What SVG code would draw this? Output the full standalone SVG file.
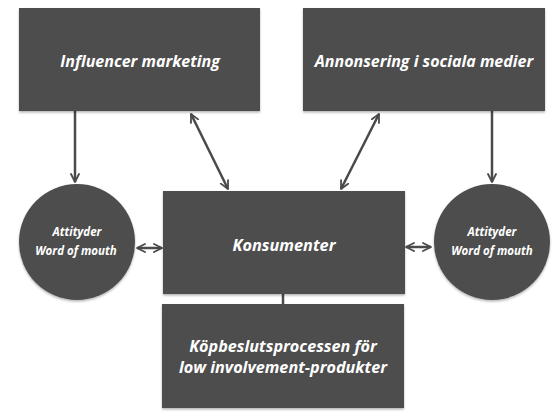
<svg xmlns="http://www.w3.org/2000/svg" width="560" height="416" viewBox="0 0 560 416">
<defs>
<filter id="sh" x="-5%" y="-5%" width="110%" height="115%"><feDropShadow dx="0" dy="1.5" stdDeviation="1" flood-color="#000" flood-opacity="0.3"/></filter>
<marker id="ah" viewBox="0 0 10 10" refX="9" refY="5" markerWidth="10" markerHeight="10" markerUnits="userSpaceOnUse" orient="auto-start-reverse">
<path d="M1,1 L9,5 L1,9" fill="none" stroke="#4a4a4a" stroke-width="1.8" stroke-linecap="round" stroke-linejoin="round"/>
</marker>
</defs>
<style>
.n{fill:#4d4d4d;filter:url(#sh)}
.t{fill:#fff;font-family:"Open Sans","Liberation Sans",sans-serif;font-weight:bold;font-style:italic;text-anchor:middle}
.c{stroke:#4a4a4a;stroke-width:2.5;fill:none}
</style>
<rect width="560" height="416" fill="#fff"/>
<g id="connectors">
<line class="c" x1="75" y1="111" x2="75" y2="182" marker-end="url(#ah)"/>
<line class="c" x1="492" y1="111" x2="492" y2="182" marker-end="url(#ah)"/>
<line class="c" x1="191" y1="114" x2="228" y2="189" marker-start="url(#ah)" marker-end="url(#ah)"/>
<line class="c" x1="379" y1="114" x2="341" y2="189" marker-start="url(#ah)" marker-end="url(#ah)"/>
<line class="c" x1="137" y1="248" x2="162" y2="248" stroke-width="2" marker-start="url(#ah)" marker-end="url(#ah)"/>
<line class="c" x1="406" y1="247" x2="431" y2="247" stroke-width="2" marker-start="url(#ah)" marker-end="url(#ah)"/>
<line class="c" x1="283" y1="294" x2="283" y2="304" stroke-width="3"/>
</g>
<g id="influencer">
<rect class="n" x="19" y="8" width="241" height="103"/>
<text class="t" x="140" y="67" font-size="16">Influencer marketing</text>
</g>
<g id="annonsering">
<rect class="n" x="303" y="8" width="242" height="103"/>
<text class="t" x="424" y="67" font-size="16">Annonsering i sociala medier</text>
</g>
<g id="konsumenter">
<rect class="n" x="163" y="191" width="242" height="103"/>
<text class="t" x="284" y="251" font-size="16.3">Konsumenter</text>
</g>
<g id="kopbeslut">
<rect class="n" x="162" y="304" width="242" height="104"/>
<text class="t" x="283" y="352" font-size="16.2">Köpbeslutsprocessen för</text>
<text class="t" x="283" y="373" font-size="16.2">low involvement-produkter</text>
</g>
<g id="attityder-left">
<circle class="n" cx="77" cy="242" r="58"/>
<text class="t" x="77" y="236" font-size="11.5">Attityder</text>
<text class="t" x="76" y="255" font-size="11.5">Word of mouth</text>
</g>
<g id="attityder-right">
<circle class="n" cx="492" cy="242" r="58"/>
<text class="t" x="492" y="236" font-size="11.5">Attityder</text>
<text class="t" x="492" y="255" font-size="11.5">Word of mouth</text>
</g>
</svg>
